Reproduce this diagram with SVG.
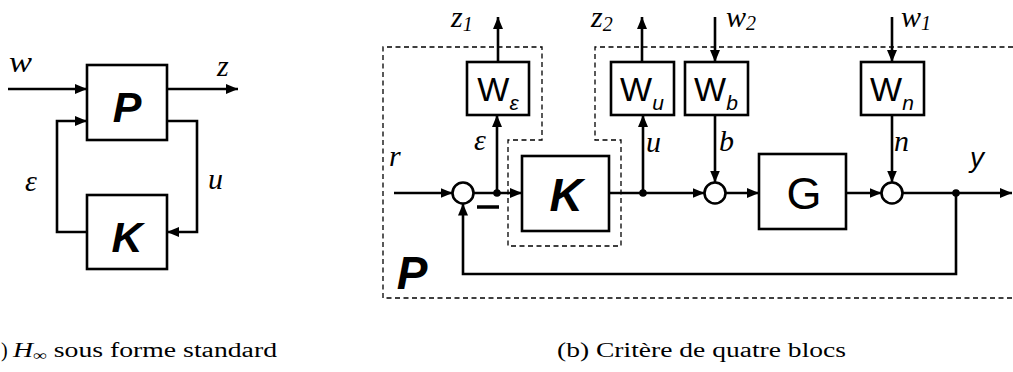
<svg xmlns="http://www.w3.org/2000/svg" width="1013" height="372" viewBox="0 0 1013 372">
<style>
.blk{fill:#fff;stroke:#000;stroke-width:2.6}
.ln{fill:none;stroke:#000;stroke-width:2.6}
.dash{fill:none;stroke:#000;stroke-width:1.3;stroke-dasharray:5 3.5}
.sum{fill:#fff;stroke:#000;stroke-width:2.6}
.lab{font-family:"Liberation Serif","DejaVu Serif",serif;font-style:italic;font-size:30px;fill:#000}
.sub{font-size:20px}
.big{font-family:"Liberation Sans",Arial,sans-serif;font-weight:bold;font-style:italic;fill:#000;text-anchor:middle}
.w{font-family:"Liberation Sans",Arial,sans-serif;font-size:34px;fill:#000;text-anchor:middle}
.ws{font-style:italic;font-size:21px}
.cap{font-family:"Liberation Serif","DejaVu Serif",serif;font-size:20px;fill:#000}
</style>
<defs>
<marker id="ar" markerUnits="userSpaceOnUse" markerWidth="13" markerHeight="11" refX="12" refY="5" orient="auto">
<path d="M0,0 L12,5 L0,10 Z" fill="#000"/>
</marker>
</defs>

<!-- Left diagram -->
<g id="P_left"><rect class="blk" x="87" y="65" width="80" height="75"/><text class="big" x="127" y="122" font-size="43">P</text></g>
<g id="K_left"><rect class="blk" x="87" y="195" width="80" height="74"/><text class="big" x="127" y="252" font-size="43">K</text></g>

<!-- Right diagram -->
<g id="P_frame"><path class="dash" d="M1013,47 H595 V140 H621 V246 H508 V140 H542 V47 H383 V298 H1013"/><text class="big" x="412" y="289" font-size="46">P</text></g>
<g id="We"><rect class="blk" x="467" y="62" width="62" height="53"/><text class="w" x="498" y="101">W<tspan class="ws" dy="9">ε</tspan></text></g>
<g id="Wu"><rect class="blk" x="611" y="62" width="63" height="53"/><text class="w" x="642" y="101">W<tspan class="ws" dy="9">u</tspan></text></g>
<g id="Wb"><rect class="blk" x="685" y="62" width="63" height="53"/><text class="w" x="716" y="101">W<tspan class="ws" dy="9">b</tspan></text></g>
<g id="Wn"><rect class="blk" x="861" y="62" width="63" height="53"/><text class="w" x="892" y="101">W<tspan class="ws" dy="9">n</tspan></text></g>
<g id="K_right"><rect class="blk" x="522" y="156" width="87" height="75"/><text class="big" x="566" y="211" font-size="46">K</text></g>
<g id="G"><rect class="blk" x="759" y="154" width="87" height="75"/><text x="804" y="209" font-family="'Liberation Sans',Arial,sans-serif" font-size="45" text-anchor="middle">G</text></g>
<g id="sum1"><circle class="sum" cx="463" cy="193" r="10.5"/></g>
<g id="sum2"><circle class="sum" cx="715" cy="193" r="10.5"/></g>
<g id="sum3"><circle class="sum" cx="892" cy="193" r="10.5"/></g>

<g id="connectors">
<path class="ln" d="M8,89 H87" marker-end="url(#ar)"/>
<path class="ln" d="M167,89 H238" marker-end="url(#ar)"/>
<path class="ln" d="M87,232 H57 V121 H87" marker-end="url(#ar)"/>
<path class="ln" d="M167,121 H197 V232 H167" marker-end="url(#ar)"/>

<path class="ln" d="M394,193 H452.5" marker-end="url(#ar)"/>
<path class="ln" d="M473.5,193 H522" marker-end="url(#ar)"/>
<path class="ln" d="M497,193 V115" marker-end="url(#ar)"/>
<path class="ln" d="M498,62 V17" marker-end="url(#ar)"/>
<path class="ln" d="M609,193 H704.5" marker-end="url(#ar)"/>
<path class="ln" d="M643,193 V115" marker-end="url(#ar)"/>
<path class="ln" d="M642,62 V17" marker-end="url(#ar)"/>
<path class="ln" d="M715,17 V62" marker-end="url(#ar)"/>
<path class="ln" d="M715,115 V182.5" marker-end="url(#ar)"/>
<path class="ln" d="M725.5,193 H759" marker-end="url(#ar)"/>
<path class="ln" d="M846,193 H881.5" marker-end="url(#ar)"/>
<path class="ln" d="M892,17 V62" marker-end="url(#ar)"/>
<path class="ln" d="M892,115 V182.5" marker-end="url(#ar)"/>
<path class="ln" d="M902.5,193 H1012" marker-end="url(#ar)"/>
<path class="ln" d="M956,193 V274 H463 V203.5" marker-end="url(#ar)"/>
<line x1="477" y1="207" x2="499" y2="207" stroke="#000" stroke-width="3.5"/>
<circle cx="497" cy="193" r="3.8"/>
<circle cx="643" cy="193" r="3.8"/>
<circle cx="956" cy="193" r="3.8"/>
</g>

<g id="labels">
<text class="lab" x="9" y="72" textLength="23" lengthAdjust="spacingAndGlyphs">w</text>
<text class="lab" x="217" y="76">z</text>
<text class="lab" x="25" y="191">ε</text>
<text class="lab" x="208" y="189">u</text>
<text class="lab" x="451" y="27">z<tspan class="sub" dy="4">1</tspan></text>
<text class="lab" x="591" y="27">z<tspan class="sub" dy="4">2</tspan></text>
<text class="lab" x="726" y="27" font-size="28">w<tspan class="sub" dy="3">2</tspan></text>
<text class="lab" x="901" y="27" font-size="28">w<tspan class="sub" dy="3">1</tspan></text>
<text class="lab" x="474" y="150">ε</text>
<text class="lab" x="646" y="152">u</text>
<text class="lab" x="719" y="151">b</text>
<text class="lab" x="894" y="151">n</text>
<text class="lab" x="389" y="166">r</text>
<text x="970" y="167" font-family="'Liberation Sans',Arial,sans-serif" font-style="italic" font-size="28">y</text>
</g>

<g id="captions">
<text class="cap" x="1" y="357">)</text>
<text class="cap" x="13" y="357" textLength="264" lengthAdjust="spacingAndGlyphs"><tspan font-style="italic">H</tspan><tspan font-size="14" dy="3">∞</tspan><tspan dy="-3"> sous forme standard</tspan></text>
<text class="cap" x="557" y="357" textLength="289" lengthAdjust="spacingAndGlyphs">(b) Critère de quatre blocs</text>
</g>
</svg>
